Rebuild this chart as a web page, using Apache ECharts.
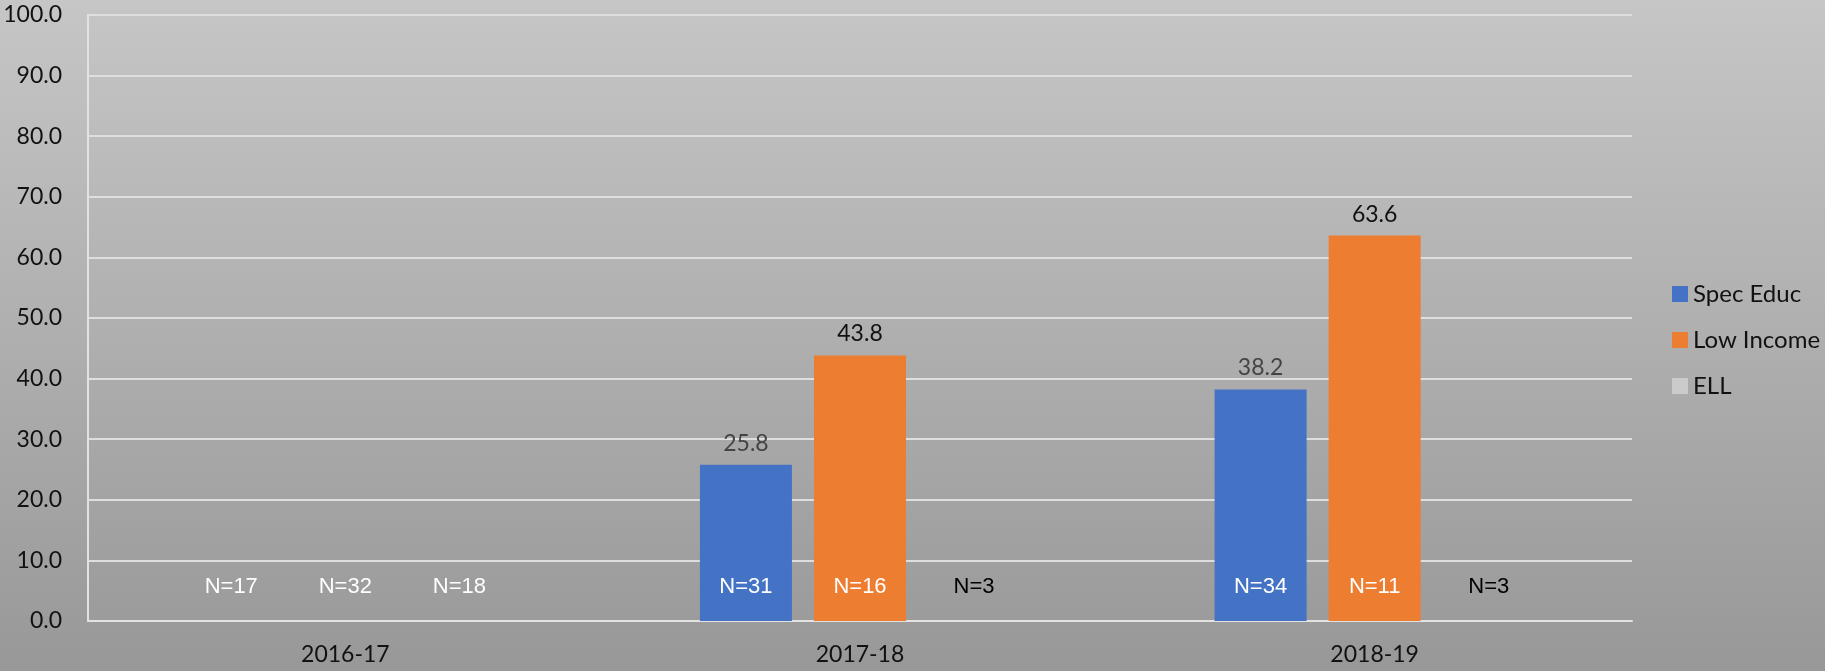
<!DOCTYPE html>
<html>
<head>
<meta charset="utf-8">
<script src="https://cdn.jsdelivr.net/npm/echarts@6/dist/echarts.min.js"></script>
<style>
html, body { margin: 0; padding: 0; }
#chart { width: 1825px; height: 671px; }
</style>
</head>
<body>
<div id="chart"></div>
<script>
// data
var years = ['2016-17', '2017-18', '2018-19'];
var specEduc = [null, 25.8, 38.2];
var lowIncome = [null, 43.8, 63.6];
var ell = [null, null, null];
var specN = ['N=17', 'N=31', 'N=34'];
var lowN = ['N=32', 'N=16', 'N=11'];
var ellN = ['N=18', 'N=3', 'N=3'];
var yTicks = [0, 10, 20, 30, 40, 50, 60, 70, 80, 90, 100];

var chart = echarts.init(document.getElementById('chart'));

var barW = 92;
var mainFont = 'Lato, "Open Sans", sans-serif';

// invisible zero bars carrying the N= labels, stacked under the real bars
function nSeries(stack, texts, colorFn) {
    return {
        name: stack + '-n',
        type: 'bar',
        stack: stack,
        barWidth: barW,
        barGap: '24%',
        z: 3,
        itemStyle: { color: 'transparent' },
        data: texts.map(function (t, i) {
            return {
                value: 0,
                label: { formatter: t, color: colorFn(i) }
            };
        }),
        label: {
            show: true,
            position: 'top',
            distance: 23,
            fontFamily: '"Liberation Sans", Arial, sans-serif',
            fontSize: 22
        }
    };
}

function valueSeries(name, stack, values, color, labelColor) {
    return {
        name: name,
        type: 'bar',
        stack: stack,
        barWidth: barW,
        barGap: '24%',
        itemStyle: { color: color },
        data: values,
        label: {
            show: true,
            position: 'top',
            distance: 10,
            fontFamily: mainFont,
            fontSize: 23,
            color: labelColor,
            formatter: function (p) { return p.value == null ? '' : p.value.toFixed(1); }
        }
    };
}

var option = {
    backgroundColor: new echarts.graphic.LinearGradient(0, 0, 0, 1, [
        { offset: 0, color: '#c6c6c6' },
        { offset: 1, color: '#989898' }
    ]),
    textStyle: { fontFamily: mainFont },
    grid: { left: 88, right: 193, top: 15, bottom: 50 },
    legend: {
        data: ['Spec Educ', 'Low Income', 'ELL'],
        orient: 'vertical',
        left: 1667,
        top: 277,
        icon: 'rect',
        itemWidth: 16,
        itemHeight: 16,
        itemGap: 22,
        textStyle: { fontSize: 24, color: '#111', fontFamily: mainFont }
    },
    xAxis: {
        type: 'category',
        data: years,
        axisTick: { show: false },
        axisLine: { lineStyle: { color: '#e2e2e2', width: 2 } },
        axisLabel: { fontSize: 23, color: '#111', margin: 22 }
    },
    yAxis: {
        type: 'value',
        min: yTicks[0],
        max: yTicks[yTicks.length - 1],
        interval: 10,
        axisLine: { show: true, lineStyle: { color: '#e2e2e2', width: 2 } },
        axisTick: { show: false },
        axisLabel: {
            fontSize: 23,
            color: '#111',
            margin: 26,
            formatter: function (v) { return v.toFixed(1); }
        },
        splitLine: { lineStyle: { color: '#dedede', width: 2 } }
    },
    series: [
        nSeries('spec', specN, function () { return '#fff'; }),
        valueSeries('Spec Educ', 'spec', specEduc, '#4472C4', '#444'),
        nSeries('low', lowN, function () { return '#fff'; }),
        valueSeries('Low Income', 'low', lowIncome, '#ED7D31', '#111'),
        nSeries('ell', ellN, function (i) { return i === 0 ? '#fff' : '#000'; }),
        valueSeries('ELL', 'ell', ell, '#cbcbcb', '#111')
    ]
};

chart.setOption(option);
</script>
</body>
</html>
